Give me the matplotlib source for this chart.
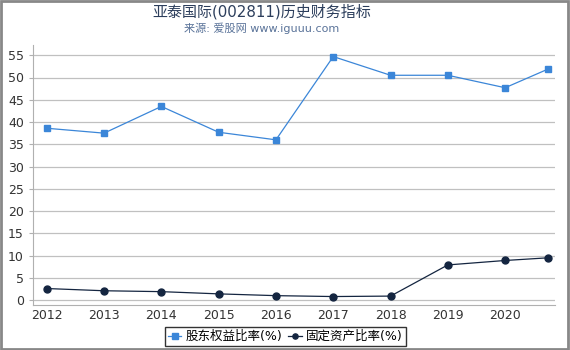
import matplotlib.pyplot as plt

plt.rcParams['font.family'] = ['DejaVu Sans', 'Noto Sans CJK SC']

x_pos = [2012, 2013, 2014, 2015, 2016, 2017, 2018, 2019, 2020, 2020.75]
year_labels = ['2012', '2013', '2014', '2015', '2016', '2017', '2018', '2019', '2020']
equity_ratio = [38.6, 37.5, 43.5, 37.7, 36.0, 54.7, 50.5, 50.5, 47.7, 51.9]
fixed_ratio = [2.6, 2.1, 1.9, 1.4, 1.0, 0.8, 0.9, 7.9, 8.9, 9.5]

fig = plt.figure(figsize=(5.7, 3.5), dpi=100)
ax = fig.add_axes([33 / 570, 45 / 350, 522 / 570, 260 / 350])

ax.plot(x_pos, equity_ratio, color='#3b86d8', marker='s', markersize=5,
        linewidth=0.9, label='股东权益比率(%)')
ax.plot(x_pos, fixed_ratio, color='#142540', marker='o', markersize=5,
        linewidth=0.9, label='固定资产比率(%)')

ax.set_xlim(2011.76, 2020.87)
ax.set_ylim(-1.1, 57.3)
ax.set_xticks(range(2012, 2021))
ax.set_xticklabels(year_labels)
ax.set_yticks(range(0, 56, 5))
ax.grid(axis='y', color='#c0c0c0', linewidth=0.9)
ax.set_axisbelow(True)
for s in ['top', 'right']:
    ax.spines[s].set_visible(False)
for s in ['left', 'bottom']:
    ax.spines[s].set_color('#b0b0b0')
ax.tick_params(axis='both', colors='#b0b0b0', labelcolor='#333333', labelsize=9, length=3)
ax.tick_params(axis='x', length=0, pad=3)

fig.text(262 / 570, 0.966, '亚泰国际(002811)历史财务指标', ha='center', va='center',
         fontsize=10.8, color='#2c3e5c')
fig.text(262 / 570, 0.918, '来源: 爱股网 www.iguuu.com', ha='center', va='center',
         fontsize=8, color='#5a7399')

leg = fig.legend(loc='center', bbox_to_anchor=(0.5, 0.038), ncol=2, fontsize=9,
                 frameon=True, fancybox=False, handlelength=1.1, handletextpad=0.3,
                 columnspacing=0.5, borderpad=0.25, borderaxespad=0, markerscale=0.75)
leg.get_frame().set_edgecolor('black')
leg.get_frame().set_linewidth(1.0)

fig.patches.append(plt.Rectangle((0.002, 0.003), 0.995, 0.994, transform=fig.transFigure,
                                 fill=False, edgecolor='#888888', linewidth=2))

fig.savefig('out.png', dpi=100)
